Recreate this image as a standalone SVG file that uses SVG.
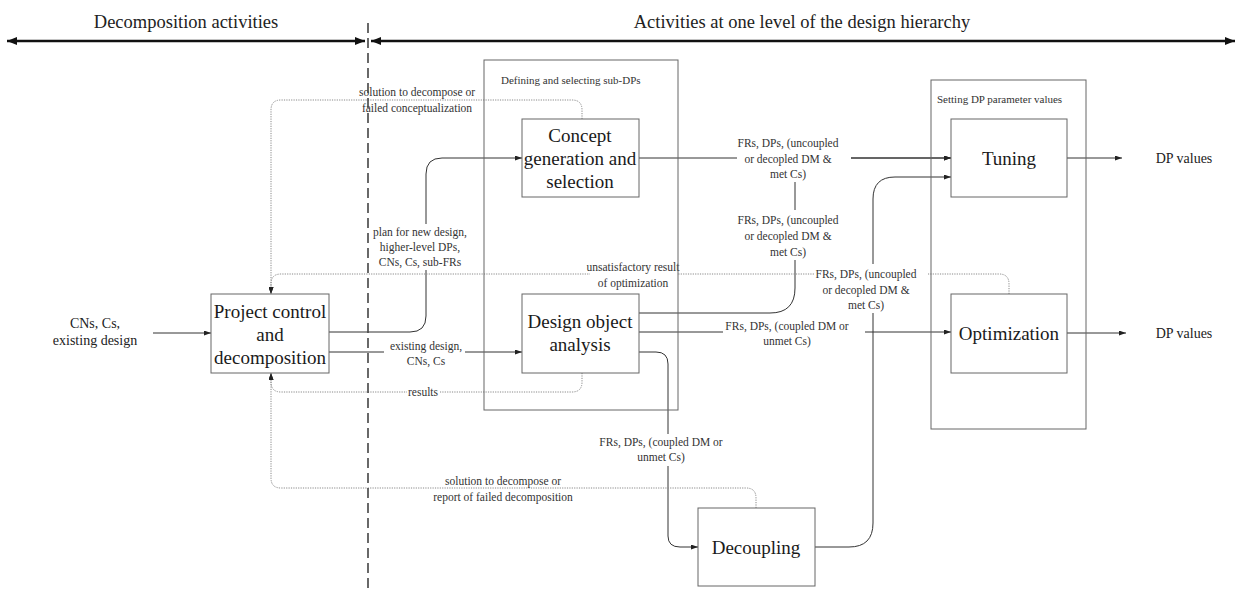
<svg xmlns="http://www.w3.org/2000/svg" width="1237" height="590" viewBox="0 0 1237 590">
<style>
  .hdr{font-family:"Liberation Serif",serif;font-size:18.5px;fill:#222;text-anchor:middle}
  .node rect{fill:#fff;stroke:#666;stroke-width:1}
  .node text{font-family:"Liberation Serif",serif;font-size:19px;fill:#1a1a1a;text-anchor:middle}
  .cont{fill:none;stroke:#666;stroke-width:1}
  .clabel{font-family:"Liberation Serif",serif;font-size:11px;fill:#333}
  .lbl text{font-family:"Liberation Serif",serif;font-size:11.5px;fill:#333;text-anchor:middle}
  .lbl rect{fill:#fff;stroke:none}
  .io{font-family:"Liberation Serif",serif;font-size:14px;fill:#222;text-anchor:middle}
  .solid{fill:none;stroke:#333;stroke-width:1}
  .dot{fill:none;stroke:#888;stroke-width:1;stroke-dasharray:1.2 1.2}
  .big{stroke:#111;stroke-width:2.5}
</style>
<defs>
  <marker id="arr" viewBox="0 0 7 5" refX="7" refY="2.5" markerWidth="7" markerHeight="5" markerUnits="userSpaceOnUse" orient="auto">
    <path d="M0,0 L7,2.5 L0,5 z" fill="#222"/>
  </marker>
  <marker id="big" viewBox="0 0 10 8" refX="10" refY="4" markerWidth="10" markerHeight="8" markerUnits="userSpaceOnUse" orient="auto-start-reverse">
    <path d="M0,0 L10,4 L0,8 z" fill="#111"/>
  </marker>
</defs>
<rect width="1237" height="590" fill="#fff"/>

<g id="header">
  <text class="hdr" x="186" y="28">Decomposition activities</text>
  <text class="hdr" x="802" y="28">Activities at one level of the design hierarchy</text>
  <line class="big" x1="7" y1="41" x2="365" y2="41" marker-start="url(#big)" marker-end="url(#big)"/>
  <line class="big" x1="371" y1="41" x2="1235" y2="41" marker-start="url(#big)" marker-end="url(#big)"/>
</g>

<g id="connectors">
  <!-- input -->
  <path class="solid" d="M153,333 H211" marker-end="url(#arr)"/>
  <!-- project -> concept -->
  <path class="solid" d="M329,332 H410 Q426,332 426,316 V174 Q426,158 442,158 H522" marker-end="url(#arr)"/>
  <!-- project -> design object -->
  <path class="solid" d="M329,352 H522" marker-end="url(#arr)"/>
  <!-- concept -> tuning -->
  <path class="solid" d="M639,158 H951" marker-end="url(#arr)"/>
  <!-- design object -> tuning -->
  <path class="solid" d="M639,313 H770 Q795,313 795,288 V172 Q795,158 809,158 H951" marker-end="url(#arr)"/>
  <!-- design object -> optimization -->
  <path class="solid" d="M639,332 H951" marker-end="url(#arr)"/>
  <!-- design object -> decoupling -->
  <path class="solid" d="M639,352 H656 Q668,352 668,364 V536 Q668,547 680,547 H698" marker-end="url(#arr)"/>
  <!-- decoupling -> tuning -->
  <path class="solid" d="M815,547 H849 Q873,547 873,523 V199 Q873,177 895,177 H951" marker-end="url(#arr)"/>
  <!-- outputs -->
  <path class="solid" d="M1067,158 H1122" marker-end="url(#arr)"/>
  <path class="solid" d="M1067,333 H1126" marker-end="url(#arr)"/>
  <!-- feedback (dotted) -->
  <path class="dot" d="M582,119 V110 Q582,100 572,100 H281 Q271,100 271,110 V294" marker-end="url(#arr)"/>
  <path class="dot" d="M1009,294 V284 Q1009,274 999,274 H281 Q271,274 271,284 V294" marker-end="url(#arr)"/>
  <path class="dot" d="M582,373 V382 Q582,392 572,392 H281 Q271,392 271,382 V373" marker-end="url(#arr)"/>
  <path class="dot" d="M756,508 V498 Q756,488 746,488 H281 Q271,488 271,478 V373" marker-end="url(#arr)"/>
</g>

<g id="labels" class="lbl">
  <g id="lbl-sol-concept">
    <text x="417" y="96">solution to decompose or</text>
    <text x="417" y="112">failed conceptualization</text>
  </g>
  <g id="lbl-plan">
    <rect x="378" y="224" width="86" height="46"/>
    <text x="420" y="236">plan for new design,</text>
    <text x="420" y="251">higher-level DPs,</text>
    <text x="420" y="266">CNs, Cs, sub-FRs</text>
  </g>
  <g id="lbl-existing">
    <rect x="384" y="338" width="81" height="30"/>
    <text x="426" y="350">existing design,</text>
    <text x="426" y="365">CNs, Cs</text>
  </g>
  <g id="lbl-results">
    <rect x="407" y="386" width="33" height="12"/>
    <text x="423" y="396">results</text>
  </g>
  <g id="lbl-unsat">
    <rect x="590" y="259" width="87" height="31"/>
    <text x="633" y="271">unsatisfactory result</text>
    <text x="633" y="287">of optimization</text>
  </g>
  <g id="lbl-frs1">
    <rect x="737" y="134" width="114" height="48"/>
    <text x="788" y="147">FRs, DPs, (uncoupled</text>
    <text x="788" y="163">or decopled DM &amp;</text>
    <text x="788" y="178">met Cs)</text>
  </g>
  <g id="lbl-frs2">
    <rect x="738" y="210" width="100" height="50"/>
    <text x="788" y="224">FRs, DPs, (uncoupled</text>
    <text x="788" y="240">or decopled DM &amp;</text>
    <text x="788" y="256">met Cs)</text>
  </g>
  <g id="lbl-frs3">
    <rect x="814" y="264" width="114" height="49"/>
    <text x="866" y="278">FRs, DPs, (uncoupled</text>
    <text x="866" y="294">or decopled DM &amp;</text>
    <text x="866" y="309">met Cs)</text>
  </g>
  <g id="lbl-coupled1">
    <rect x="723" y="318" width="142" height="31"/>
    <text x="787" y="330">FRs, DPs, (coupled DM or</text>
    <text x="787" y="345">unmet Cs)</text>
  </g>
  <g id="lbl-coupled2">
    <rect x="599" y="434" width="125" height="32"/>
    <text x="661" y="446">FRs, DPs, (coupled DM or</text>
    <text x="661" y="461">unmet Cs)</text>
  </g>
  <g id="lbl-sol-decomp">
    <text x="503" y="485">solution to decompose or</text>
    <text x="503" y="501">report of failed decomposition</text>
  </g>
</g>

<g id="io">
  <text class="io" x="95" y="328">CNs, Cs,</text>
  <text class="io" x="95" y="345">existing design</text>
  <text class="io" x="1184" y="163">DP values</text>
  <text class="io" x="1184" y="338">DP values</text>
</g>

<g id="group-defining">
  <rect class="cont" x="484" y="60" width="194" height="350"/>
  <text class="clabel" x="501" y="84">Defining and selecting sub-DPs</text>
</g>
<g id="group-setting">
  <rect class="cont" x="931" y="80" width="155" height="349"/>
  <text class="clabel" x="937" y="103">Setting DP parameter values</text>
</g>

<g id="node-project" class="node">
  <rect x="211" y="294" width="118" height="79"/>
  <text x="270" y="318">Project control</text>
  <text x="270" y="341">and</text>
  <text x="270" y="364">decomposition</text>
</g>
<g id="node-concept" class="node">
  <rect x="522" y="119" width="117" height="78"/>
  <text x="580" y="142">Concept</text>
  <text x="580" y="165">generation and</text>
  <text x="580" y="188">selection</text>
</g>
<g id="node-analysis" class="node">
  <rect x="522" y="294" width="117" height="79"/>
  <text x="580" y="328">Design object</text>
  <text x="580" y="351">analysis</text>
</g>
<g id="node-tuning" class="node">
  <rect x="951" y="119" width="116" height="78"/>
  <text x="1009" y="165">Tuning</text>
</g>
<g id="node-optimization" class="node">
  <rect x="951" y="294" width="116" height="79"/>
  <text x="1009" y="340">Optimization</text>
</g>
<g id="node-decoupling" class="node">
  <rect x="698" y="508" width="117" height="78"/>
  <text x="756" y="554">Decoupling</text>
</g>

<g id="divider">
  <line x1="368" y1="23" x2="368" y2="590" stroke="#444" stroke-width="1.6" stroke-dasharray="10 5"/>
</g>
</svg>
